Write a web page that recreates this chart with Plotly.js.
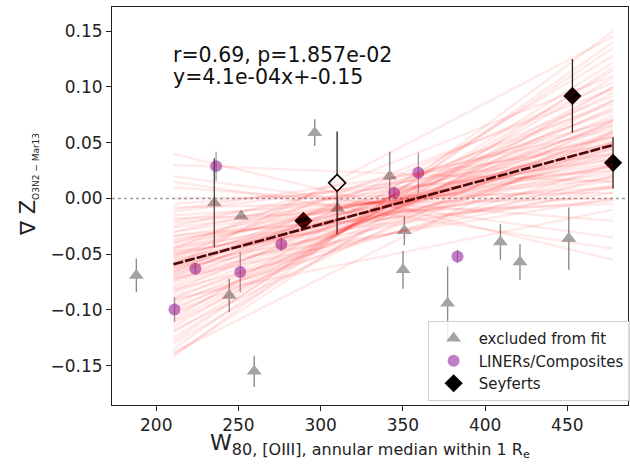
<!DOCTYPE html>
<html>
<head>
<meta charset="utf-8">
<script src="https://cdn.plot.ly/plotly-3.0.1.min.js"></script>
<style>
html,body{margin:0;padding:0;overflow:hidden;background:#fff;}
#chart{width:632px;height:471px;}
</style>
</head>
<body>
<div id="chart"></div>
<script>
// ---- data ----
var exclX   = [187.9, 235.3, 244.4, 251.7, 259.6, 296.4, 310.3, 342.0, 350.9, 350.1, 377.2, 409.3, 421.2, 450.9];
var exclY   = [-0.069, -0.004, -0.087, -0.016, -0.155, 0.059, -0.009, 0.020, -0.029, -0.064, -0.094, -0.039, -0.057, -0.036];
var exclErr = [0.015, 0.0, 0.015, 0.0, 0.014, 0.012, 0.010, 0.022, 0.013, 0.017, 0.033, 0.016, 0.016, 0.028];

var linerX   = [211.1, 223.8, 236.4, 251.1, 276.1, 344.7, 359.4, 383.2];
var linerY   = [-0.0995, -0.063, 0.029, -0.066, -0.041, 0.005, 0.023, -0.052];
var linerErr = [0.011, 0.005, 0.013, 0.018, 0.006, 0.005, 0.018, 0.006];

var seyX   = [289.5, 453.1, 477.8];
var seyY   = [-0.020, 0.092, 0.032];
var seyErr = [0.0, 0.033, 0.023];

var seyOpenX   = [310.0];
var seyOpenY   = [0.014];
var seyOpenErr = [0.046];

var darkErrX = [235.3];
var darkErrY = [-0.004];
var darkErr  = [0.040];

// bootstrap fit lines: value at fanX[0] (fanL) and at fanX[1] (fanR)
var fanX = [210.5, 477.8];
var fanL = [
  -0.059,-0.062,-0.056,-0.065,-0.053,-0.070,-0.048,-0.067,-0.051,-0.075,
  -0.043,-0.072,-0.046,-0.080,-0.038,-0.061,-0.057,-0.085,-0.034,-0.068,
  -0.050,-0.090,-0.030,-0.064,-0.054,-0.078,-0.040,-0.074,-0.044,-0.095,
  -0.026,-0.058,-0.060,-0.083,-0.036,-0.100,-0.022,-0.070,-0.048,-0.105,
  -0.015,-0.110,-0.020,-0.098,-0.030,-0.088,-0.012,-0.115,-0.008,-0.120,
  -0.040,-0.092,-0.025,-0.102,0.000,-0.112,-0.018,-0.125,-0.052,-0.082,
  -0.005,-0.118,-0.033,-0.108,-0.066,-0.072,-0.010,-0.130,-0.045,-0.062,
  0.010,-0.135,0.020,-0.142,0.040,-0.140,0.030,-0.128,0.015,-0.060,
  -0.090,-0.138];
var fanR = [
  0.048,0.052,0.044,0.046,0.050,0.055,0.041,0.060,0.036,0.050,
  0.046,0.040,0.056,0.058,0.038,0.066,0.030,0.065,0.032,0.072,
  0.025,0.070,0.028,0.078,0.020,0.068,0.030,0.080,0.016,0.075,
  0.022,0.085,0.012,0.088,0.010,0.082,0.018,0.092,0.005,0.095,
  0.010,0.100,0.035,0.060,0.055,0.045,0.040,0.108,0.000,0.115,
  0.070,0.030,0.062,0.050,0.005,0.088,-0.005,0.122,0.098,0.020,
  0.025,0.070,-0.002,0.128,0.104,0.010,0.048,0.100,0.110,0.000,
  -0.020,0.140,-0.035,0.150,-0.055,0.118,0.015,0.135,-0.045,0.145,
  -0.010,0.060];

var fitSlope = 4.0e-4;
var fitIntercept = -0.1432;

var xTicks = [200, 250, 300, 350, 400, 450];
var yTicks = [-0.15, -0.10, -0.05, 0.00, 0.05, 0.10, 0.15];
var yTickText = ['\u22120.15', '\u22120.10', '\u22120.05', '0.00', '0.05', '0.10', '0.15'];

var statText = ['r=0.69, p=1.857e-02', 'y=4.1e-04x+-0.15'];
var legendNames = ['excluded from fit', 'LINERs/Composites', 'Seyferts'];

// ---- traces ----
var FONT = 'DejaVu Sans, Verdana, sans-serif';
var traces = [];

traces.push({
  x: exclX, y: exclY, type: 'scatter', mode: 'markers', name: legendNames[0],
  legendgroup: 'a',
  marker: {symbol: 'triangle-up', size: 13, color: '#a3a3a3'},
  error_y: {type: 'data', array: exclErr, visible: true, color: '#8c8c8c', thickness: 1.4, width: 0}
});
traces.push({
  x: linerX, y: linerY, type: 'scatter', mode: 'markers', name: legendNames[1],
  legendgroup: 'b',
  marker: {symbol: 'circle', size: 12, color: 'rgba(150,40,160,0.6)', line: {width: 0}},
  error_y: {type: 'data', array: linerErr, visible: true, color: 'rgba(130,110,130,0.7)', thickness: 1.3, width: 0}
});
traces.push({
  x: seyX, y: seyY, type: 'scatter', mode: 'markers', name: legendNames[2],
  legendgroup: 'c',
  marker: {symbol: 'diamond', size: 14, color: '#000'},
  error_y: {type: 'data', array: seyErr, visible: true, color: '#222', thickness: 1.3, width: 0}
});
traces.push({
  x: seyOpenX, y: seyOpenY, type: 'scatter', mode: 'markers', showlegend: false,
  marker: {symbol: 'diamond', size: 13, color: '#fff', line: {color: '#000', width: 1.6}},
  error_y: {type: 'data', array: seyOpenErr, visible: true, color: '#222', thickness: 1.3, width: 0}
});
traces.push({
  x: darkErrX, y: darkErrY, type: 'scatter', mode: 'markers', showlegend: false,
  marker: {size: 1, color: 'rgba(0,0,0,0)'},
  error_y: {type: 'data', array: darkErr, visible: true, color: '#444', thickness: 1.3, width: 0}
});

for (var i = 0; i < fanL.length; i++) {
  traces.push({
    x: fanX, y: [fanL[i], fanR[i]], type: 'scatter', mode: 'lines', showlegend: false,
    hoverinfo: 'skip', opacity: 0.085,
    line: {color: 'rgb(255,0,0)', width: 2.4}
  });
}

traces.push({
  x: fanX, y: fanX.map(function (v) { return fitSlope * v + fitIntercept; }),
  type: 'scatter', mode: 'lines', showlegend: false,
  line: {color: '#4a0808', width: 2.6, dash: '10px,2px'}
});

var layout = {
  width: 632, height: 471,
  margin: {l: 112.3, r: 2, t: 7, b: 66},
  paper_bgcolor: '#fff', plot_bgcolor: '#fff',
  font: {family: FONT, color: '#222'},
  showlegend: true,
  xaxis: {
    range: [173.1, 486.9], tickmode: 'array', tickvals: xTicks,
    ticks: 'outside', ticklen: 5, tickwidth: 1, tickcolor: '#222',
    showline: true, linecolor: '#222', linewidth: 1, mirror: true,
    showgrid: false, zeroline: false,
    tickfont: {size: 17, family: FONT, color: '#222'}
  },
  yaxis: {
    range: [-0.1852, 0.1717], tickmode: 'array', tickvals: yTicks, ticktext: yTickText,
    ticks: 'outside', ticklen: 5, tickwidth: 1, tickcolor: '#222',
    showline: true, linecolor: '#222', linewidth: 1, mirror: true,
    showgrid: false, zeroline: false,
    tickfont: {size: 17, family: FONT, color: '#222'}
  },
  shapes: [{
    type: 'line', xref: 'paper', x0: 0, x1: 1, yref: 'y', y0: 0, y1: 0,
    line: {color: '#a0a0a0', width: 1.4, dash: 'dot'}, layer: 'below'
  }],
  legend: {
    x: 0.6117, y: 0.211, xanchor: 'left', yanchor: 'top',
    bgcolor: 'rgba(255,255,255,0.85)', bordercolor: '#d0d0d0', borderwidth: 1,
    font: {size: 15, family: FONT, color: '#222'},
    traceorder: 'grouped', tracegroupgap: 0, itemwidth: 40
  },
  annotations: [
    {xref: 'paper', yref: 'paper', x: 0.1153, y: 0.879, xanchor: 'left', yanchor: 'middle',
     text: statText[0], showarrow: false, font: {size: 20.5, family: FONT, color: '#111'}},
    {xref: 'paper', yref: 'paper', x: 0.1153, y: 0.8235, xanchor: 'left', yanchor: 'middle',
     text: statText[1], showarrow: false, font: {size: 20.5, family: FONT, color: '#111'}},
    {xref: 'paper', yref: 'paper', x: 0.5, y: -0.058, xanchor: 'center', yanchor: 'top',
     text: 'W<sub><span style="font-size:16px">80, [OIII], annular median within 1 R<sub>e</sub></span></sub>',
     showarrow: false, font: {size: 22, family: FONT, color: '#222'}},
    {xref: 'paper', yref: 'paper', x: -0.163, y: 0.555, xanchor: 'center', yanchor: 'middle',
     textangle: -90,
     text: '\u2207 Z<sub><span style="font-size:9px">O3N2 \u2212 Mar13</span></sub>',
     showarrow: false, font: {size: 21, family: FONT, color: '#222'}}
  ]
};

Plotly.newPlot('chart', traces, layout, {displayModeBar: false, staticPlot: true});
</script>
</body>
</html>
